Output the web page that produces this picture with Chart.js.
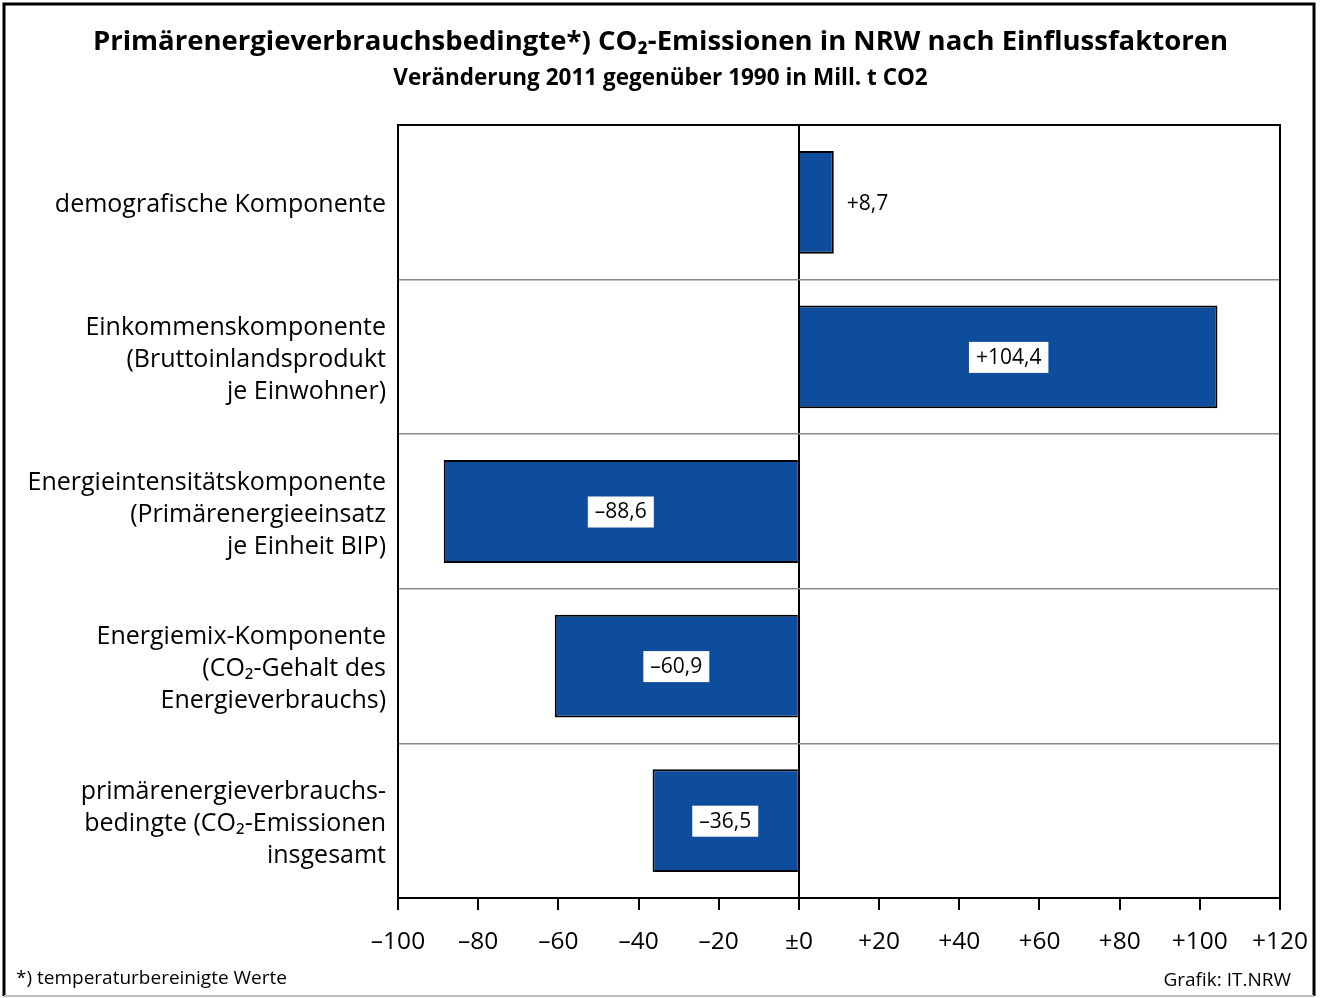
<!DOCTYPE html>
<html>
<head>
<meta charset="utf-8">
<script src="https://cdn.jsdelivr.net/npm/chart.js@4"></script>
<style>
  html, body { margin: 0; padding: 0; background: #fff; }
  #wrap { width: 1321px; height: 998px; position: relative; }
</style>
</head>
<body>
<div id="wrap"><canvas id="chart"></canvas></div>
<script>
const categories = [
    ["demografische Komponente"],
    ["Einkommenskomponente", "(Bruttoinlandsprodukt", "je Einwohner)"],
    ["Energieintensitätskomponente", "(Primärenergieeinsatz", "je Einheit BIP)"],
    ["Energiemix-Komponente", "(CO₂-Gehalt des", "Energieverbrauchs)"],
    ["primärenergieverbrauchs-", "bedingte (CO₂-Emissionen", "insgesamt"]
];
const values = [8.7, 104.4, -88.6, -60.9, -36.5];

const titleText = "Primärenergieverbrauchsbedingte*) CO₂-Emissionen in NRW nach Einflussfaktoren";
const subtitleText = "Veränderung 2011 gegenüber 1990 in Mill. t CO2";
const footLeft = "*) temperaturbereinigte Werte";
const footRight = "Grafik: IT.NRW";

const FONT = "'Open Sans', 'Noto Sans', sans-serif";

const fmt = (v) => {
    if (v === 0) return '±0';
    const s = Math.abs(v).toString().replace('.', ',');
    return (v < 0 ? '–' : '+') + s;
};

const extras = {
    id: 'extras',
    afterDatasetsDraw(chart) {
        const ctx = chart.ctx;
        const a = chart.chartArea;
        const meta = chart.getDatasetMeta(0);
        ctx.save();
        ctx.font = '21px ' + FONT;
        ctx.textBaseline = 'middle';
        meta.data.forEach((bar, i) => {
            const v = values[i];
            const txt = fmt(v);
            const w = ctx.measureText(txt).width;
            if (Math.abs(v) > 20) {
                const cx = (bar.x + bar.base) / 2;
                ctx.fillStyle = '#fff';
                ctx.fillRect(cx - w / 2 - 7, bar.y - 15, w + 14, 31);
                ctx.fillStyle = '#000';
                ctx.textAlign = 'center';
                ctx.fillText(txt, cx, bar.y + 1);
            } else {
                ctx.fillStyle = '#000';
                ctx.textAlign = 'left';
                ctx.fillText(txt, Math.max(bar.x, bar.base) + 13, bar.y + 2);
            }
        });
        // plot frame
        ctx.strokeStyle = '#000';
        ctx.lineWidth = 2;
        ctx.strokeRect(a.left, a.top, a.right - a.left, a.bottom - a.top);
        ctx.restore();
    },
    afterDraw(chart) {
        const ctx = chart.ctx;
        ctx.save();
        // outer frame
        ctx.strokeStyle = '#000';
        ctx.lineWidth = 3;
        ctx.beginPath();
        ctx.moveTo(4, 996); ctx.lineTo(4, 4); ctx.lineTo(1314, 4); ctx.lineTo(1314, 996);
        ctx.stroke();
        ctx.strokeStyle = '#bbb';
        ctx.lineWidth = 2;
        ctx.beginPath();
        ctx.moveTo(4, 996); ctx.lineTo(1314, 996);
        ctx.stroke();
        // footers
        ctx.fillStyle = '#000';
        ctx.textBaseline = 'middle';
        ctx.font = '19px ' + FONT;
        ctx.textAlign = 'left';
        ctx.fillText(footLeft, 16, 979);
        ctx.textAlign = 'right';
        ctx.fillText(footRight, 1291, 981);
        ctx.restore();
    }
};

new Chart("chart", {
    type: 'bar',
    data: {
        labels: categories,
        datasets: [{
            data: values,
            backgroundColor: '#0e4d9e',
            borderColor: '#000',
            borderWidth: 2,
            barPercentage: 0.665,
            categoryPercentage: 1
        }]
    },
    plugins: [extras],
    options: {
        indexAxis: 'y',
        responsive: true,
        maintainAspectRatio: false,
        animation: false,
        layout: { padding: 0 },
        plugins: {
            legend: { display: false },
            tooltip: { enabled: false },
            title: {
                display: true,
                text: titleText,
                color: '#000',
                font: { family: FONT, size: 27.5, weight: 'bold', lineHeight: 1.2 },
                padding: { top: 25.5, bottom: 5 }
            },
            subtitle: {
                display: true,
                text: subtitleText,
                color: '#000',
                font: { family: FONT, size: 22.5, weight: 'bold', lineHeight: 1.2 },
                padding: { top: 2, bottom: 32.5 }
            }
        },
        scales: {
            x: {
                min: -100,
                max: 120,
                ticks: {
                    stepSize: 20,
                    color: '#000',
                    padding: 17,
                    font: { family: FONT, size: 24.5 },
                    callback: (v) => fmt(v)
                },
                grid: {
                    color: (c) => (c.tick && c.tick.value === 0) ? '#000' : 'rgba(0,0,0,0)',
                    lineWidth: 2,
                    tickColor: '#000',
                    tickWidth: 2,
                    tickLength: 12
                },
                border: { color: '#000', width: 2 },
                afterFit: (s) => { s.height = 100; s.paddingRight = 41; }
            },
            y: {
                ticks: {
                    color: '#000',
                    padding: 12,
                    labelOffset: 3,
                    font: { family: FONT, size: 25, lineHeight: 1.28 }
                },
                grid: {
                    color: '#8a8a8a',
                    lineWidth: 1.5,
                    drawTicks: false,
                    offset: true
                },
                border: { color: '#000', width: 2 },
                afterFit: (s) => { s.width = 398; }
            }
        }
    }
});
</script>
</body>
</html>
